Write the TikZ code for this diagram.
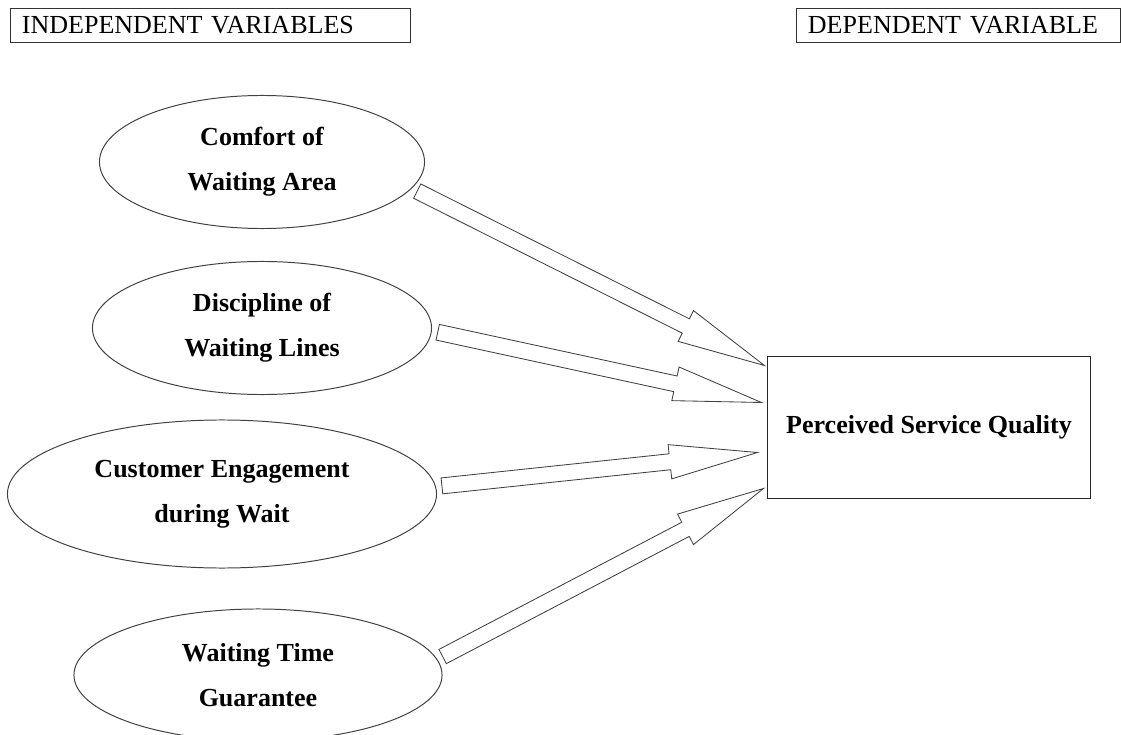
\documentclass[tikz,border=0pt]{standalone}
\usepackage{fontspec}
\setmainfont{Liberation Serif}
\usetikzlibrary{shapes.geometric, calc}

\begin{document}
\begin{tikzpicture}[x=0.025cm, y=-0.025cm]
	\tikzset {var/.style={ellipse, draw=black!75, line width=0.7pt, inner sep=0pt, align=center,
			font=\bfseries\fontsize{18.5}{32}\selectfont},
		head/.style={draw=black!80, line width=0.6pt, minimum height=0.85cm, inner xsep=0.3cm,
			align=left, font=\fontsize{18.5}{22}\selectfont},
		fat/.style={draw=black!75, fill=white, line width=0.6pt, line join=miter, to path={
				($(\tikztostart)!0.15cm!(\tikztotarget)$) coordinate (ft)
				($(\tikztotarget)!2.2cm!(\tikztostart)$) coordinate (fh)
				($(ft)!0.2cm!90:(\tikztotarget)$) -- ($(fh)!0.2cm!-90:(ft)$) -- ($(fh)!0.43cm!-90:(ft)$)
				-- (\tikztotarget) -- ($(fh)!0.43cm!90:(ft)$) -- ($(fh)!0.2cm!90:(ft)$)
				-- ($(ft)!0.2cm!-90:(\tikztotarget)$) -- cycle}} }
	\useasboundingbox (0,0) rectangle (1121,735);
	
	\node[head, text width=9.4cm] (IV) at (210,25) {INDEPENDENT VARIABLES};
	\node[head, text width=7.5cm] (DV) at (958,25) {DEPENDENT VARIABLE};
	
	\node[var, minimum width=8.125cm, minimum height=3.325cm] (CW) at (262,162) {Comfort of\\Waiting Area};
	\node[var, minimum width=8.475cm, minimum height=3.325cm] (DL) at (262,328) {Discipline of\\Waiting Lines};
	\node[var, minimum width=10.725cm, minimum height=3.7cm] (CE) at (222,494) {Customer Engagement\\during Wait};
	\node[var, minimum width=9.2cm, minimum height=3.3cm] (WT) at (258,675) {Waiting Time\\Guarantee};
	\node[draw=black!85, line width=0.7pt, minimum width=8.05cm, minimum height=3.525cm,
		font=\bfseries\fontsize{18.5}{22}\selectfont] (PQ) at (929,427.5) {Perceived Service Quality};
	
	\coordinate (q1) at ($(PQ.west)+(-3,-62)$);
	\coordinate (q2) at ($(PQ.west)+(-6,-25)$);
	\coordinate (q3) at ($(PQ.west)+(-10,25)$);
	\coordinate (q4) at ($(PQ.west)+(-4,61)$);
	
	\draw[fat] (CW.-10) to (q1);
	\draw[fat] (DL.-1) to (q2);
	\draw[fat] (CE.2) to (q3);
	\draw[fat] (WT.5) to (q4);
\end{tikzpicture}
\end{document}
